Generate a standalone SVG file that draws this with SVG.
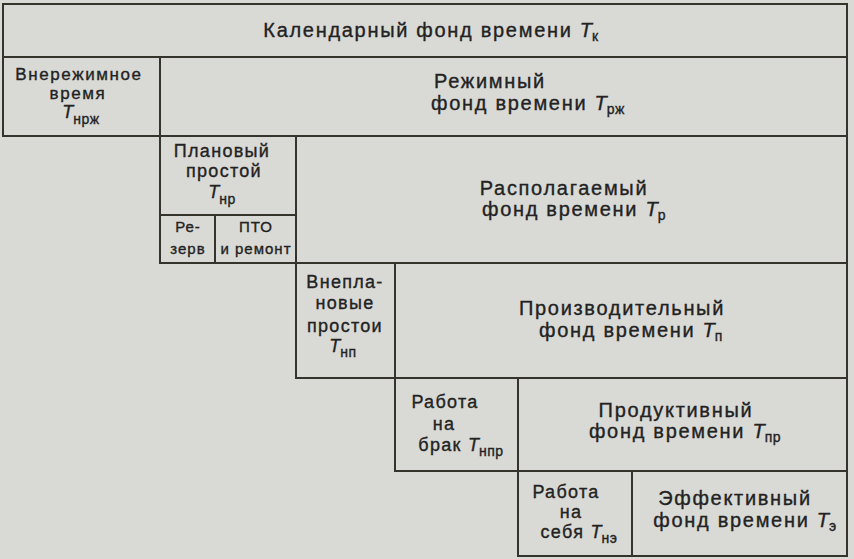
<svg xmlns="http://www.w3.org/2000/svg" width="854" height="559" viewBox="0 0 854 559">
<style>
.cell{fill:none;stroke:#34342c;stroke-width:2}
text{font-family:"Liberation Sans",Arial,sans-serif;fill:#222;stroke:#222;stroke-width:0.35px;text-anchor:middle}
.m{font-size:20px;letter-spacing:1.7px}
.s{font-size:18px;letter-spacing:1.3px}
.s2{font-size:17px;letter-spacing:1.6px}
.x{font-size:15px;letter-spacing:1px}
.t{font-style:italic;letter-spacing:0}
.sub{font-size:14px;letter-spacing:0.5px}
</style>
<rect x="0" y="0" width="854" height="559" fill="#d9d9d5"/>
<g id="connectors"/>
<g id="calendar">
<rect class="cell" x="3" y="4" width="844" height="53"/>
<text class="m" x="431" y="37">Календарный фонд времени <tspan class="t">T</tspan><tspan class="sub" dy="4">к</tspan></text>
</g>
<g id="nonregime">
<rect class="cell" x="3" y="57" width="157" height="79"/>
<text class="s2" x="79" y="80">Внережимное</text>
<text class="s2" x="78" y="99">время</text>
<text class="s" x="81" y="118"><tspan class="t">T</tspan><tspan class="sub" dy="6">нрж</tspan></text>
</g>
<g id="regime">
<rect class="cell" x="160" y="57" width="687" height="79"/>
<text class="m" x="490" y="88">Режимный</text>
<text class="m" x="528" y="110">фонд времени <tspan class="t">T</tspan><tspan class="sub" dy="4">рж</tspan></text>
</g>
<g id="planned">
<rect class="cell" x="160" y="136" width="136" height="79"/>
<text class="s" x="222" y="157">Плановый</text>
<text class="s" x="224" y="177">простой</text>
<text class="s" x="222" y="198"><tspan class="t">T</tspan><tspan class="sub" dy="6">нр</tspan></text>
</g>
<g id="reserve">
<rect class="cell" x="160" y="215" width="55" height="48"/>
<text class="x" x="188" y="232">Ре-</text>
<text class="x" x="188" y="254">зерв</text>
</g>
<g id="pto">
<rect class="cell" x="215" y="215" width="81" height="48"/>
<text class="x" x="256" y="232">ПТО</text>
<text class="x" x="256" y="254">и ремонт</text>
</g>
<g id="available">
<rect class="cell" x="296" y="136" width="551" height="127"/>
<text class="m" x="564" y="195">Располагаемый</text>
<text class="m" x="574" y="216">фонд времени <tspan class="t">T</tspan><tspan class="sub" dy="4">р</tspan></text>
</g>
<g id="unplanned">
<rect class="cell" x="296" y="263" width="99" height="115"/>
<text class="s" x="345" y="288">Внепла-</text>
<text class="s" x="345" y="309">новые</text>
<text class="s" x="345" y="332">простои</text>
<text class="s" x="343" y="352"><tspan class="t">T</tspan><tspan class="sub" dy="5">нп</tspan></text>
</g>
<g id="productive">
<rect class="cell" x="395" y="263" width="452" height="115"/>
<text class="m" x="622" y="315">Производительный</text>
<text class="m" x="631" y="337">фонд времени <tspan class="t">T</tspan><tspan class="sub" dy="4">п</tspan></text>
</g>
<g id="defect">
<rect class="cell" x="395" y="378" width="123" height="93"/>
<text class="s" x="445" y="408">Работа</text>
<text class="s" x="444" y="430">на</text>
<text class="s" x="461" y="451">брак <tspan class="t">T</tspan><tspan class="sub" dy="5">нпр</tspan></text>
</g>
<g id="useful">
<rect class="cell" x="518" y="378" width="329" height="93"/>
<text class="m" x="676" y="417">Продуктивный</text>
<text class="m" x="685" y="438">фонд времени <tspan class="t">T</tspan><tspan class="sub" dy="4">пр</tspan></text>
</g>
<g id="self">
<rect class="cell" x="518" y="471" width="114" height="85"/>
<text class="s" x="566" y="498">Работа</text>
<text class="s" x="571" y="518">на</text>
<text class="s" x="579" y="538">себя <tspan class="t">T</tspan><tspan class="sub" dy="5">нэ</tspan></text>
</g>
<g id="effective">
<rect class="cell" x="632" y="471" width="215" height="85"/>
<text class="m" x="735" y="505">Эффективный</text>
<text class="m" x="745" y="527">фонд времени <tspan class="t">T</tspan><tspan class="sub" dy="4">э</tspan></text>
</g>
</svg>
